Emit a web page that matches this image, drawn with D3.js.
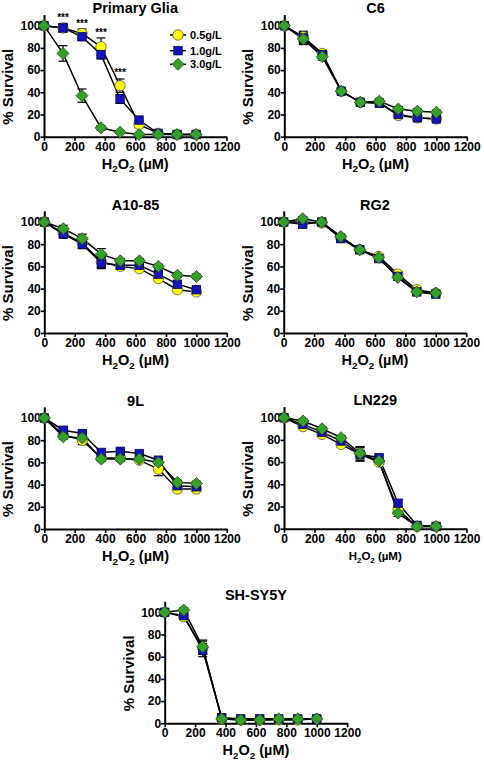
<!DOCTYPE html>
<html><head><meta charset="utf-8">
<script src="https://cdn.jsdelivr.net/npm/d3@7"></script>
<style>
html,body{margin:0;padding:0;background:#fff;}
text{font-family:"Liberation Sans",Arial,sans-serif;font-weight:bold;fill:#000;}
</style></head>
<body><svg id="c" width="484" height="762"></svg>
<script>
// ---- data ----
const doses = [0,125,250,375,500,625,750,875,1000];
const xTicks = [0,200,400,600,800,1000,1200];
const yTicks = [0,20,40,60,80,100];
const seriesNames = ["0.5g/L","1.0g/L","3.0g/L"];

const glia05 = [100,98,93,81,46,11,3,2,2];
const glia10 = [100,98,90,74,34,15,3,2,2];
const glia30 = [100,75,37,8,4,2,2,2,2];
const glia05Err = [0,4,4,8,6,3,1,1,1];
const glia10Err = [0,3,3,4,4,2,1,1,1];
const glia30Err = [0,7,6,2,1,1,1,1,1];
const gliaStarX = [125,250,375,500];
const gliaStarY = [108,102,94,58];

const c6_05 = [100,90,75,41,31,31,19,17,16];
const c6_10 = [100,89,74,41,31,30,20,17,16];
const c6_30 = [100,88,72,41,31,32,25,23,22];
const c6Err = [0,5,3,2,2,2,2,2,2];

const a10_05 = [100,90,81,64,60,58,49,39,37];
const a10_10 = [100,89,80,63,61,61,53,44,39];
const a10_30 = [100,94,85,71,65,65,60,52,51];
const a10Err = [0,3,4,5,2,2,2,2,2];

const rg2_05 = [100,100,99,86,75,69,53,39,36];
const rg2_10 = [100,98,100,85,75,67,51,37,35];
const rg2_30 = [100,103,100,87,75,68,50,37,36];
const rg2Err = [0,2,2,2,2,2,2,2,2];

const l9_05 = [100,85,80,64,64,62,54,36,36];
const l9_10 = [100,89,86,69,70,68,62,39,38];
const l9_30 = [100,83,82,63,63,63,60,42,41];
const l9Err05 = [0,3,4,2,2,2,6,2,2];
const l9Err = [0,2,2,2,2,2,2,2,2];

const ln_05 = [100,92,85,76,67,60,17,2,2];
const ln_10 = [100,94,87,79,67,64,23,3,2];
const ln_30 = [100,97,90,82,68,61,14,2,2];
const lnErr = [0,2,2,2,6,2,3,1,1];

const sh_05 = [100,96,68,4,3,3,3,3,4];
const sh_10 = [100,97,66,5,4,4,4,4,4];
const sh_30 = [100,102,69,4,3,3,4,4,4];
const shErr = [0,2,6,1,1,1,1,1,1];

// ---- layout ----
const W = 182.5, K = 1.11;
const panels = [
  {title:"Primary Glia", x0:44, y0:136.7, s:[glia05,glia10,glia30], e:[glia05Err,glia10Err,glia30Err], legend:true, stars:true},
  {title:"C6", x0:284.3, y0:136.7, s:[c6_05,c6_10,c6_30], e:[c6Err,c6Err,c6Err]},
  {title:"A10-85", x0:44.3, y0:333, s:[a10_05,a10_10,a10_30], e:[a10Err,a10Err,a10Err]},
  {title:"RG2", x0:283.7, y0:333, s:[rg2_05,rg2_10,rg2_30], e:[rg2Err,rg2Err,rg2Err]},
  {title:"9L", x0:44.3, y0:529, s:[l9_05,l9_10,l9_30], e:[l9Err05,l9Err,l9Err]},
  {title:"LN229", x0:284, y0:528.7, s:[ln_05,ln_10,ln_30], e:[lnErr,lnErr,lnErr], smallLabel:true},
  {title:"SH-SY5Y", x0:164.7, y0:723.3, s:[sh_05,sh_10,sh_30], e:[shErr,shErr,shErr]}
];
const fills = ["#ffff00","#1414b8","#36a02a"];
const strokes = ["#555","#000060","#1a5010"];

const svg = d3.select("#c");

function marker(g, k, x, y){
  if(k===0){
    g.append("circle").attr("cx",x).attr("cy",y).attr("r",5.2)
     .attr("fill",fills[0]).attr("stroke",strokes[0]).attr("stroke-width",0.8);
  } else if(k===1){
    g.append("rect").attr("x",x-4.2).attr("y",y-4.2).attr("width",8.4).attr("height",8.4)
     .attr("fill",fills[1]).attr("stroke",strokes[1]).attr("stroke-width",0.8);
  } else {
    const r=6;
    g.append("path").attr("d",`M${x},${y-r}L${x+r},${y}L${x},${y+r}L${x-r},${y}Z`)
     .attr("fill",fills[2]).attr("stroke",strokes[2]).attr("stroke-width",0.8);
  }
}

panels.forEach(p=>{
  const x = d3.scaleLinear().domain([0,1200]).range([p.x0, p.x0+W]);
  const y = d3.scaleLinear().domain([0,110]).range([p.y0, p.y0-110*K]);
  const g = svg.append("g");

  const xa = g.append("g").attr("transform",`translate(0,${p.y0})`)
    .call(d3.axisBottom(x).tickValues(xTicks).tickFormat(d3.format("d")).tickSize(4).tickSizeOuter(0).tickPadding(1.5));
  const ya = g.append("g").attr("transform",`translate(${p.x0},0)`)
    .call(d3.axisLeft(y).tickValues(yTicks).tickFormat(d3.format("d")).tickSize(3.5).tickSizeOuter(0).tickPadding(0));
  [xa,ya].forEach(a=>{
    a.select(".domain").attr("stroke","#000").attr("stroke-width",2);
    a.selectAll(".tick line").attr("stroke","#000").attr("stroke-width",1.6);
    a.selectAll(".tick text").attr("font-size",12).attr("font-family","Liberation Sans, Arial").attr("font-weight","bold").attr("fill","#000");
  });

  // title
  g.append("text").attr("x",p.x0+W/2).attr("y",p.y0-123.5).attr("text-anchor","middle")
   .attr("font-size",14.5).text(p.title);
  // y label
  g.append("text").attr("transform",`translate(${p.x0-31},${y(45)}) rotate(-90)`)
   .attr("text-anchor","middle").attr("font-size",15).text("% Survival");
  // x label
  const fs = p.smallLabel ? 11.5 : 14.5;
  const xl = g.append("text").attr("x",p.x0+W/2).attr("y",p.y0+(p.smallLabel?31:32)).attr("text-anchor","middle")
   .attr("font-size",fs);
  xl.append("tspan").text("H");
  xl.append("tspan").attr("font-size",fs*0.68).attr("dy",fs*0.25).text("2");
  xl.append("tspan").attr("dy",-fs*0.25).text("O");
  xl.append("tspan").attr("font-size",fs*0.68).attr("dy",fs*0.25).text("2");
  xl.append("tspan").attr("dy",-fs*0.25).text(" (µM)");

  const line = d3.line().x((d,i)=>x(doses[i])).y(d=>y(d));
  // error bars
  p.s.forEach((vals,k)=>{
    vals.forEach((v,i)=>{
      const err = p.e[k][i];
      if(err<=0) return;
      const cx = x(doses[i]);
      g.append("line").attr("x1",cx).attr("x2",cx).attr("y1",y(v-err)).attr("y2",y(v+err))
       .attr("stroke","#000").attr("stroke-width",1.2);
      [v-err,v+err].forEach(e=>g.append("line").attr("x1",cx-4.5).attr("x2",cx+4.5)
        .attr("y1",y(e)).attr("y2",y(e)).attr("stroke","#000").attr("stroke-width",1.2));
    });
  });
  p.s.forEach(vals=>{
    g.append("path").datum(vals).attr("d",line).attr("fill","none")
     .attr("stroke","#000").attr("stroke-width",1.5);
  });
  p.s.forEach((vals,k)=>{
    vals.forEach((v,i)=>marker(g,k,x(doses[i]),y(v)));
  });

  if(p.stars){
    gliaStarX.forEach((sx,i)=>{
      g.append("text").attr("x",x(sx)).attr("y",y(gliaStarY[i])+4).attr("text-anchor","middle")
       .attr("font-size",10).text("***");
    });
  }
  if(p.legend){
    const ly = [35,50.7,64.3];
    seriesNames.forEach((n,k)=>{
      g.append("line").attr("x1",170).attr("x2",186).attr("y1",ly[k]).attr("y2",ly[k])
       .attr("stroke","#000").attr("stroke-width",1.5);
      marker(g,k,178,ly[k]);
      g.append("text").attr("x",190).attr("y",ly[k]+4).attr("font-size",11).text(n);
    });
  }
});
</script></body></html>
